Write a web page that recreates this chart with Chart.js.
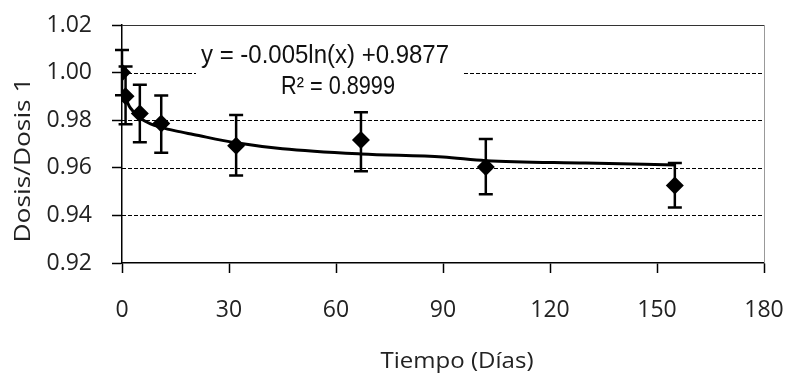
<!DOCTYPE html>
<html><head><meta charset="utf-8">
<script src="https://cdn.jsdelivr.net/npm/chart.js@4/dist/chart.umd.min.js"></script>
<style>html,body{margin:0;padding:0;background:#fff}#w{width:789px;height:376px}</style>
</head><body><div id="w"><canvas id="c" width="789" height="376"></canvas></div>
<script>
const days = [0, 1, 5, 11, 32, 67, 102, 155];
const ratio = [1.000, 0.9901, 0.9828, 0.9786, 0.9693, 0.9717, 0.9603, 0.9526];
const errHigh = [1.0095, 1.0026, 0.9949, 0.9904, 0.9822, 0.9833, 0.9721, 0.9620];
const errLow = [0.9905, 0.9783, 0.9707, 0.9663, 0.9568, 0.9586, 0.9489, 0.9433];
const trendDays = [1, 2, 3, 5, 8, 11, 15, 20, 32, 45, 67, 90, 102, 130, 155];
const trendValues = [0.9895, 0.986, 0.984, 0.981, 0.9785, 0.977, 0.9755, 0.974, 0.9705, 0.968, 0.9658, 0.9645, 0.963, 0.962, 0.9612];
const xTicks = [0, 30, 60, 90, 120, 150, 180];
const yTicks = [0.92, 0.94, 0.96, 0.98, 1.00, 1.02];
const gridValues = [0.94, 0.96, 0.98, 1.00];
const equationText = 'y = -0.005ln(x) +0.9877';
const r2Text = 'R² = 0.8999';
const xTitle = 'Tiempo (Días)';
const yTitle = 'Dosis/Dosis 1';

const FONT = "'Open Sans', Lato, sans-serif";

function fitText(ctx, text, cx, cy, targetW, rot) {
  const w = ctx.measureText(text).width;
  ctx.save();
  ctx.translate(cx, cy);
  if (rot) ctx.rotate(rot);
  ctx.scale(targetW / w, 1);
  ctx.fillText(text, 0, 0);
  ctx.restore();
}

const extras = {
  id: 'extras',
  beforeDatasetsDraw(chart) {
    const {ctx, chartArea: a, scales: {x, y}} = chart;
    ctx.save();
    ctx.strokeStyle = '#000';
    ctx.lineWidth = 1;
    ctx.setLineDash([4, 2]);
    for (const v of gridValues) {
      const py = Math.round(y.getPixelForValue(v)) + 0.5;
      ctx.beginPath(); ctx.moveTo(a.left, py); ctx.lineTo(a.right, py); ctx.stroke();
    }
    ctx.setLineDash([]);
    ctx.strokeStyle = '#333';
    ctx.beginPath();
    ctx.moveTo(a.left, Math.round(a.top) + 0.5);
    ctx.lineTo(a.right, Math.round(a.top) + 0.5);
    ctx.stroke();
    ctx.strokeStyle = '#999';
    ctx.beginPath();
    ctx.moveTo(Math.round(a.right) + 0.5, a.top);
    ctx.lineTo(Math.round(a.right) + 0.5, a.bottom);
    ctx.stroke();
    ctx.fillStyle = '#fff';
    ctx.fillRect(196, 40, 267, 60);
    ctx.fillStyle = '#111';
    ctx.textBaseline = 'middle';
    ctx.textAlign = 'center';
    ctx.font = "26px 'Liberation Sans', Arial, sans-serif";
    fitText(ctx, equationText, 325, 56, 248, 0);
    fitText(ctx, r2Text, 338, 87, 114, 0);
    ctx.fillStyle = '#222';
    ctx.font = "21px " + FONT;
    fitText(ctx, xTitle, 457, 362, 153, 0);
    fitText(ctx, yTitle, 24, 160, 165, -Math.PI / 2);
    ctx.strokeStyle = '#000';
    ctx.lineWidth = 2.5;
    for (let i = 0; i < days.length; i++) {
      const px = x.getPixelForValue(days[i]);
      const top = y.getPixelForValue(errHigh[i]);
      const bot = y.getPixelForValue(errLow[i]);
      ctx.beginPath();
      ctx.moveTo(px, top); ctx.lineTo(px, bot);
      ctx.moveTo(px - 7, top); ctx.lineTo(px + 7, top);
      ctx.moveTo(px - 7, bot); ctx.lineTo(px + 7, bot);
      ctx.stroke();
    }
    ctx.restore();
  }
};

new Chart(document.getElementById('c'), {
  type: 'scatter',
  data: {
    datasets: [
      {
        data: days.map((d, i) => ({x: d, y: ratio[i]})),
        pointStyle: 'rectRot', pointRadius: 9, pointHoverRadius: 9,
        backgroundColor: '#000', borderColor: '#000', borderWidth: 0,
        showLine: false, order: 1
      },
      {
        data: trendDays.map((d, i) => ({x: d, y: trendValues[i]})),
        showLine: true, borderColor: '#000', borderWidth: 3, pointRadius: 0,
        cubicInterpolationMode: 'monotone', fill: false, order: 2
      }
    ]
  },
  options: {
    responsive: false, animation: false, devicePixelRatio: 1,
    layout: {padding: {top: 25, right: 25, left: 0, bottom: 0}},
    plugins: {legend: {display: false}, tooltip: {enabled: false}},
    scales: {
      x: {
        type: 'linear', min: 0, max: 180,
        afterBuildTicks: s => { s.ticks = xTicks.map(v => ({value: v})); },
        afterFit: s => { s.height = 113; s.paddingLeft = 0; s.paddingRight = 0; },
        border: {display: true, color: '#000', width: 1.5},
        grid: {drawOnChartArea: false, drawTicks: true, tickLength: 10, tickColor: '#000', tickWidth: 1.5},
        ticks: {color: '#222', font: {family: FONT, size: 23}, padding: 24, maxRotation: 0},
        title: {display: false}
      },
      y: {
        type: 'linear', min: 0.92, max: 1.02,
        afterBuildTicks: s => { s.ticks = yTicks.map(v => ({value: v})); },
        afterFit: s => { s.width = 122; s.paddingTop = 0; s.paddingBottom = 0; },
        border: {display: true, color: '#000', width: 1.5},
        grid: {drawOnChartArea: false, drawTicks: true, tickLength: 10, tickColor: '#000', tickWidth: 1.5},
        ticks: {color: '#222', font: {family: FONT, size: 23}, padding: 20, callback: v => Number(v).toFixed(2)},
        title: {display: false}
      }
    }
  },
  plugins: [extras]
});
</script></body></html>
